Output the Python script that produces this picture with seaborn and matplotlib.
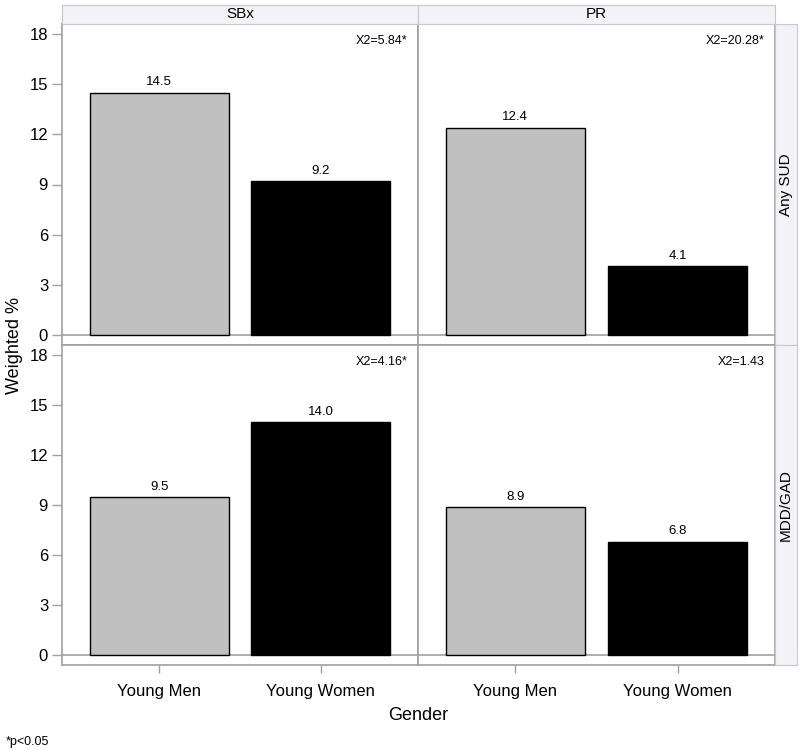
import matplotlib
matplotlib.use("Agg")
import matplotlib.pyplot as plt
import seaborn as sns
import pandas as pd

# chart data
groups = ["SBx", "PR"]
outcomes = ["Any SUD", "MDD/GAD"]
genders = ["Young Men", "Young Women"]
any_sud_sbx = [14.5, 9.2]
any_sud_pr = [12.4, 4.1]
mdd_gad_sbx = [9.5, 14.0]
mdd_gad_pr = [8.9, 6.8]
chi_labels = {("Any SUD", "SBx"): "X2=5.84*", ("Any SUD", "PR"): "X2=20.28*",
              ("MDD/GAD", "SBx"): "X2=4.16*", ("MDD/GAD", "PR"): "X2=1.43"}
y_ticks = [0, 3, 6, 9, 12, 15, 18]

values = {("Any SUD", "SBx"): any_sud_sbx, ("Any SUD", "PR"): any_sud_pr,
          ("MDD/GAD", "SBx"): mdd_gad_sbx, ("MDD/GAD", "PR"): mdd_gad_pr}
rows = []
for (outcome, group), vals in values.items():
    for g, v in zip(genders, vals):
        rows.append({"outcome": outcome, "group": group, "gender": g, "pct": v})
df = pd.DataFrame(rows)

sns.set_style("white")
plt.rcParams["font.family"] = ["Liberation Sans", "DejaVu Sans"]
plt.rcParams["text.color"] = "black"
plt.rcParams["xtick.color"] = "black"
plt.rcParams["ytick.color"] = "black"

edge = "#a0a0a0"
strip_bg = "#f3f3f7"
palette = {"Young Men": "#c0c0c0", "Young Women": "#000000"}

fig = plt.figure(figsize=(8, 7.5), dpi=100)
W, H = 800, 750
col_x = [62, 418, 775]
row_y = [24, 345, 665]

def px_axes(x0, y0, x1, y1):
    return fig.add_axes([x0 / W, 1 - y1 / H, (x1 - x0) / W, (y1 - y0) / H])

for r, outcome in enumerate(outcomes):
    for c, group in enumerate(groups):
        ax = px_axes(col_x[c], row_y[r], col_x[c + 1], row_y[r + 1])
        sub = df[(df.outcome == outcome) & (df.group == group)]
        sns.barplot(data=sub, x="gender", y="pct", hue="gender", palette=palette,
                    order=genders, hue_order=genders, dodge=False, legend=False,
                    width=0.86, edgecolor="black", linewidth=1, ax=ax)
        for cont in ax.containers:
            ax.bar_label(cont, fmt="%.1f", padding=3, fontsize=9.5)
        ax.axhline(0, color=edge, lw=1.2, zorder=0)
        ax.set_xlim(-0.6, 1.6)
        ax.set_ylim(-0.6, 18.6)
        ax.set_xlabel("")
        ax.set_ylabel("")
        ax.text(0.97, 0.965, chi_labels[(outcome, group)], transform=ax.transAxes,
                ha="right", va="top", fontsize=9)
        for s in ax.spines.values():
            s.set_color(edge)
            s.set_linewidth(1.2)
        if c == 0:
            ax.set_yticks(y_ticks)
            ax.tick_params(axis="y", left=True, length=7, width=1, color=edge,
                           labelcolor="black", labelsize=12, pad=3)
        else:
            ax.set_yticks([])
        if r == 1:
            ax.set_xticks([0, 1])
            ax.set_xticklabels(genders)
            ax.tick_params(axis="x", bottom=True, length=6, width=1, color=edge,
                           labelcolor="black", labelsize=12, pad=8)
        else:
            ax.set_xticks([])

# column strips
for c, group in enumerate(groups):
    sax = px_axes(col_x[c], 5, col_x[c + 1], row_y[0])
    sax.set_facecolor(strip_bg)
    sax.set_xticks([]); sax.set_yticks([])
    for s in sax.spines.values():
        s.set_color("#c8c8c8")
    sax.text(0.5, 0.5, group, ha="center", va="center", fontsize=11, transform=sax.transAxes)

# row strips
for r, outcome in enumerate(outcomes):
    sax = px_axes(col_x[2], row_y[r], 797, row_y[r + 1])
    sax.set_facecolor(strip_bg)
    sax.set_xticks([]); sax.set_yticks([])
    for s in sax.spines.values():
        s.set_color("#c8c8c8")
    sax.text(0.5, 0.5, outcome, ha="center", va="center", rotation=90,
             fontsize=11, transform=sax.transAxes)

fig.text(15 / W, 1 - 345 / H, "Weighted %", rotation=90, ha="center", va="center", fontsize=13)
fig.text(418 / W, 1 - 716 / H, "Gender", ha="center", va="center", fontsize=13)
fig.text(6 / W, 1 - 742 / H, "*p<0.05", ha="left", va="center", fontsize=9)

fig.savefig("out.png", dpi=100)
